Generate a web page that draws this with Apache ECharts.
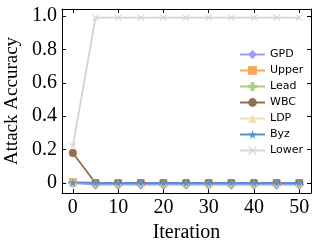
<!DOCTYPE html>
<html><head><meta charset="utf-8">
<script src="https://cdn.jsdelivr.net/npm/echarts@6/dist/echarts.min.js"></script>
<style>html,body{margin:0;padding:0;background:#fff}#c{width:319px;height:248px}</style>
</head><body><div id="c"></div>
<script>
const iterations = [0,5,10,15,20,25,30,35,40,45,50];
const gpd   = [0,-0.01,-0.01,-0.01,-0.01,-0.01,-0.01,-0.01,-0.01,-0.01,-0.01];
const upper = [0.005,0,0,0,0,0,0,0,0,0,0];
const lead  = [0.003,0,0,0,0,0,0,0,0,0,0];
const wbc   = [0.18,0,0,0,0,0,0,0,0,0,0];
const ldp   = [0.004,0,0,0,0,0,0,0,0,0,0];
const byz   = [0.002,0,0,0,0,0,0,0,0,0,0];
const lower = [0.22,0.99,0.99,0.99,0.99,0.99,0.99,0.99,0.99,0.99,0.99];
const xTicks = [0,10,20,30,40,50];
const yTicks = [0,0.2,0.4,0.6,0.8,1.0];

const plus = 'path://M3,0H7V3H10V7H7V10H3V7H0V3H3Z';
const star = 'path://M5,0L6.2,3.6L10,3.6L6.9,5.8L8.1,9.5L5,7.2L1.9,9.5L3.1,5.8L0,3.6L3.8,3.6Z';
const cross = 'path://M0,1L1,0L5,4L9,0L10,1L6,5L10,9L9,10L5,6L1,10L0,9L4,5Z';

const defs = [
  ['GPD', gpd, '#9e9ef0', 'diamond', 10],
  ['Upper', upper, '#f7a65c', 'rect', 8],
  ['Lead', lead, '#aacf80', plus, 8],
  ['WBC', wbc, '#8f7050', 'circle', 8],
  ['LDP', ldp, '#f6dfb8', 'triangle', 8],
  ['Byz', byz, '#5392cc', star, 9],
  ['Lower', lower, '#d4d4d4', cross, 7]
];

const series = defs.map(d => ({
  name: d[0], type: 'line',
  xAxisIndex: 0, yAxisIndex: 0,
  data: iterations.map((x,i)=>[x,d[1][i]]),
  symbol: d[3], symbolSize: d[4], showAllSymbol: true,
  lineStyle: {color: d[2], width: 1.8},
  itemStyle: {color: d[2]},
  z: d[0]==='Lower'?1:2
}));

const chart = echarts.init(document.getElementById('c'), null, {renderer:'canvas'});
chart.setOption({
  animation: false,
  grid: {left: 62, right: 8, top: 9, bottom: 55, outerBoundsMode: 'none', containLabel: false},
  legend: {
    orient: 'vertical', left: 234, top: 44, itemWidth: 25, itemHeight: 11, itemGap: 5,
    textStyle: {fontFamily: 'DejaVu Sans', fontSize: 11, color: '#000'},
    data: defs.map(d=>d[0])
  },
  xAxis: [{
    type: 'value', min: -2.4, max: 52.6,
    name: 'Iteration', nameLocation: 'middle', nameGap: 28,
    nameTextStyle: {fontFamily: 'Liberation Serif', fontSize: 20, color: '#000'},
    axisLine: {show: true, onZero: false, lineStyle:{color:'#000', width:1}},
    axisTick: {inside: true, length: 4, customValues: xTicks, lineStyle:{color:'#000'}},
    axisLabel: {customValues: xTicks, fontFamily: 'Liberation Serif', fontSize: 20, color: '#000', margin: 5},
    splitLine: {show: false}
  },{
    type: 'value', position: 'top', min: -2.4, max: 52.6,
    axisLine: {show: true, onZero: false, lineStyle:{color:'#000', width:1}},
    axisTick: {inside: true, length: 4, customValues: xTicks, lineStyle:{color:'#000'}},
    axisLabel: {show: false}, splitLine: {show:false}
  }],
  yAxis: [{
    type: 'value', min: -0.06, max: 1.042,
    name: 'Attack Accuracy', nameLocation: 'middle', nameGap: 33,
    nameTextStyle: {fontFamily: 'Liberation Serif', fontSize: 19, color: '#000'},
    axisLine: {show: true, onZero: false, lineStyle:{color:'#000'}},
    axisTick: {inside: true, length: 4, customValues: yTicks, lineStyle:{color:'#000'}},
    axisLabel: {customValues: yTicks, fontFamily: 'Liberation Serif', fontSize: 20, color: '#000', margin: 5,
      formatter: v => Math.abs(v) < 1e-9 ? '0' : v.toFixed(1)},
    splitLine: {show: false}
  },{
    type: 'value', position: 'right', min: -0.06, max: 1.042,
    axisLine: {show: true, onZero: false, lineStyle:{color:'#000'}},
    axisTick: {inside: true, length: 4, customValues: yTicks, lineStyle:{color:'#000'}},
    axisLabel: {show: false}, splitLine: {show:false}
  }],
  series: series
});
</script></body></html>
